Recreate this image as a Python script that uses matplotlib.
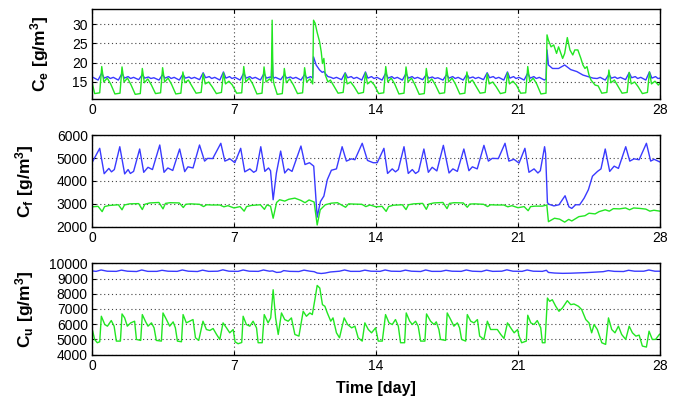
import matplotlib

matplotlib.use("Agg")

import matplotlib.pyplot as plt

plt.rcParams["font.family"] = ["Liberation Sans", "DejaVu Sans"]
plt.rcParams["mathtext.fontset"] = "custom"
plt.rcParams["mathtext.rm"] = "Liberation Sans"
plt.rcParams["mathtext.bf"] = "Liberation Sans:bold"

BLUE = "#3a3aff"
GREEN = "#22e622"

# ---- effluent concentration Ce [g/m3] ----
ce_blue_t = [
    0.0,
    0.05, 0.3, 0.48, 0.6, 0.78, 0.9,
    1.05, 1.3, 1.48, 1.6, 1.78, 1.9,
    2.05, 2.3, 2.48, 2.6, 2.78, 2.9,
    3.05, 3.3, 3.48, 3.6, 3.78, 3.9,
    4.05, 4.3, 4.48, 4.6, 4.78, 4.9,
    5.05, 5.3, 5.48, 5.6, 5.78, 5.9,
    6.05, 6.3, 6.48, 6.6, 6.78, 6.9,
    7.05, 7.3, 7.48, 7.6, 7.78, 7.9,
    8.05, 8.3, 8.48, 8.6, 8.78, 8.84, 8.88, 8.92, 8.96,
    9.05, 9.3, 9.48, 9.6, 9.78, 9.9,
    10.05, 10.3, 10.48, 10.6, 10.78, 10.88, 10.92, 11.05, 11.22, 11.35, 11.43, 11.5, 11.63, 11.78, 11.9,
    12.05, 12.3, 12.48, 12.6, 12.78, 12.9,
    13.05, 13.3, 13.48, 13.6, 13.78, 13.9,
    14.05, 14.3, 14.48, 14.6, 14.78, 14.9,
    15.05, 15.3, 15.48, 15.6, 15.78, 15.9,
    16.05, 16.3, 16.48, 16.6, 16.78, 16.9,
    17.05, 17.3, 17.48, 17.6, 17.78, 17.9,
    18.05, 18.3, 18.48, 18.6, 18.78, 18.9,
    19.05, 19.3, 19.48, 19.6, 19.78, 19.9,
    20.05, 20.3, 20.48, 20.6, 20.78, 20.9,
    21.05, 21.3, 21.48, 21.6, 21.78, 21.9,
    22.05, 22.3, 22.38, 22.43, 22.5, 22.7, 23.0, 23.3, 23.6, 23.9, 24.2, 24.45, 24.7, 24.9,
    25.05, 25.3, 25.48, 25.6, 25.78, 25.9,
    26.05, 26.3, 26.48, 26.6, 26.78, 26.9,
    27.05, 27.3, 27.48, 27.6, 27.78, 27.9,
    28.0,
]
ce_blue = [
    16.4,
    16.2, 15.5, 17.3, 16.0, 16.4, 15.9,
    16.2, 15.5, 17.2, 16.0, 16.4, 15.9,
    16.2, 15.6, 16.9, 16.0, 16.3, 15.9,
    16.1, 15.5, 16.9, 16.0, 16.4, 15.9,
    16.2, 15.5, 17.0, 16.0, 16.3, 15.9,
    16.2, 15.6, 17.4, 16.1, 16.4, 15.9,
    16.2, 15.5, 17.6, 16.0, 16.4, 15.9,
    16.2, 15.5, 17.3, 16.0, 16.4, 15.9,
    16.2, 15.5, 17.2, 16.0, 16.3, 16.1, 22.0, 16.6, 16.0,
    16.2, 15.6, 16.9, 16.0, 16.3, 15.9,
    16.2, 15.5, 16.9, 16.0, 16.4, 16.0, 21.5, 19.4, 18.1, 17.5, 17.7, 17.2, 16.4, 16.2, 15.9,
    16.2, 15.6, 17.4, 16.1, 16.4, 15.9,
    16.2, 15.5, 17.6, 16.0, 16.4, 15.9,
    16.2, 15.5, 17.3, 16.0, 16.4, 15.9,
    16.2, 15.5, 17.2, 16.0, 16.4, 15.9,
    16.2, 15.6, 16.9, 16.0, 16.3, 15.9,
    16.1, 15.5, 16.9, 16.0, 16.4, 15.9,
    16.2, 15.5, 17.0, 16.0, 16.3, 15.9,
    16.2, 15.6, 17.4, 16.1, 16.4, 15.9,
    16.2, 15.5, 17.6, 16.0, 16.4, 15.9,
    16.2, 15.5, 17.3, 16.0, 16.4, 15.9,
    16.2, 15.5, 15.8, 23.3, 19.4, 18.5, 18.5, 19.4, 18.2, 17.7, 16.8, 16.4, 16.0, 15.9,
    16.2, 15.5, 17.0, 16.0, 16.3, 15.9,
    16.2, 15.6, 17.4, 16.1, 16.4, 15.9,
    16.2, 15.5, 17.6, 16.0, 16.4, 15.9,
    16.0,
]

ce_green_t = [
    0.0,
    0.13, 0.38, 0.48, 0.58, 0.75, 0.92,
    1.13, 1.38, 1.48, 1.58, 1.75, 1.92,
    2.13, 2.38, 2.48, 2.58, 2.75, 2.92,
    3.13, 3.38, 3.48, 3.58, 3.75, 3.92,
    4.13, 4.38, 4.48, 4.58, 4.75, 4.92,
    5.13, 5.38, 5.48, 5.58, 5.75, 5.92,
    6.13, 6.38, 6.48, 6.58, 6.75, 6.92,
    7.13, 7.38, 7.48, 7.58, 7.75, 7.92,
    8.13, 8.38, 8.48, 8.58, 8.75, 8.84, 8.88, 8.92, 8.98,
    9.13, 9.38, 9.48, 9.58, 9.75, 9.92,
    10.13, 10.38, 10.48, 10.58, 10.75, 10.88, 10.92, 11.0, 11.1, 11.22, 11.3, 11.36, 11.43, 11.5, 11.63, 11.75, 11.92,
    12.13, 12.38, 12.48, 12.58, 12.75, 12.92,
    13.13, 13.38, 13.48, 13.58, 13.75, 13.92,
    14.13, 14.38, 14.48, 14.58, 14.75, 14.92,
    15.13, 15.38, 15.48, 15.58, 15.75, 15.92,
    16.13, 16.38, 16.48, 16.58, 16.75, 16.92,
    17.13, 17.38, 17.48, 17.58, 17.75, 17.92,
    18.13, 18.38, 18.48, 18.58, 18.75, 18.92,
    19.13, 19.38, 19.48, 19.58, 19.75, 19.92,
    20.13, 20.38, 20.48, 20.58, 20.75, 20.92,
    21.13, 21.38, 21.48, 21.58, 21.75, 21.92,
    22.13, 22.38, 22.43, 22.5, 22.63, 22.76, 22.9, 23.0, 23.2, 23.3, 23.43, 23.56, 23.7, 23.8, 23.95,
    24.1, 24.2, 24.3, 24.4, 24.5, 24.6, 24.8, 24.95,
    25.13, 25.38, 25.48, 25.58, 25.75, 25.92,
    26.13, 26.38, 26.48, 26.58, 26.75, 26.92,
    27.13, 27.38, 27.48, 27.58, 27.75, 27.92,
    28.0,
]
ce_green = [
    15.0,
    12.0, 12.2, 19.0, 15.0, 16.0, 14.5,
    11.9, 12.1, 18.9, 15.0, 16.0, 14.3,
    11.8, 12.0, 18.5, 14.8, 15.8, 14.3,
    12.0, 12.2, 18.7, 15.0, 16.0, 14.4,
    11.9, 12.1, 17.6, 14.8, 15.5, 14.0,
    12.1, 12.3, 17.2, 14.5, 15.0, 13.8,
    12.0, 12.3, 17.4, 14.5, 15.2, 14.2,
    12.1, 12.2, 19.0, 15.0, 16.0, 14.5,
    11.9, 12.1, 18.9, 15.0, 15.8, 15.2, 31.0, 16.0, 14.3,
    11.8, 12.0, 18.5, 14.8, 15.8, 14.3,
    12.0, 12.2, 18.7, 15.0, 15.8, 14.5, 31.0, 30.2, 27.8, 25.4, 22.8, 19.8, 21.1, 16.8, 15.0, 15.5, 14.0,
    12.1, 12.3, 17.2, 14.5, 15.0, 13.8,
    12.0, 12.3, 17.4, 14.5, 15.2, 14.2,
    12.0, 12.2, 19.0, 15.0, 16.0, 14.5,
    11.9, 12.1, 18.9, 15.0, 16.0, 14.3,
    11.8, 12.0, 18.5, 14.8, 15.8, 14.3,
    12.0, 12.2, 18.7, 15.0, 16.0, 14.4,
    11.9, 12.1, 17.6, 14.8, 15.5, 14.0,
    12.1, 12.3, 17.2, 14.5, 15.0, 13.8,
    12.0, 12.3, 17.4, 14.5, 15.2, 14.2,
    12.1, 12.2, 19.0, 15.0, 16.0, 14.5,
    11.9, 12.1, 27.2, 25.8, 24.1, 24.6, 22.4, 24.1, 21.1, 22.4, 26.5, 23.3, 22.0, 23.3, 23.3,
    21.1, 19.4, 18.5, 19.0, 16.8, 15.5, 14.2, 14.0,
    12.1, 12.3, 18.1, 14.8, 15.5, 14.0,
    12.1, 12.3, 17.5, 14.5, 15.0, 13.8,
    12.0, 12.3, 17.6, 14.5, 15.2, 14.2,
    14.7,
]

# ---- feed concentration Cf [g/m3] ----
cf_blue_t = [
    0.0, 0.38, 0.6, 0.83, 0.96, 1.1, 1.37, 1.61, 1.78, 1.89, 2.05, 2.35, 2.55, 2.76, 2.98,
    3.34, 3.55, 3.74, 3.98, 4.32, 4.57, 4.73, 4.98, 5.3, 5.55, 5.7, 5.95, 6.35, 6.55, 6.8,
    7.04, 7.33, 7.53, 7.78, 7.97, 8.1, 8.32, 8.52, 8.7, 8.8, 8.93, 9.09, 9.3, 9.5, 9.67, 9.86,
    10.3, 10.5, 10.72, 10.93, 11.1, 11.26, 11.43, 11.6, 11.8, 12.05, 12.33, 12.54, 12.79, 12.96,
    13.32, 13.58, 13.86, 14.06, 14.39, 14.57, 14.8, 14.96, 15.1, 15.38, 15.59, 15.79, 15.95,
    16.1, 16.36, 16.58, 16.77, 17.0, 17.32, 17.6, 17.79, 18.01, 18.33, 18.58, 18.75, 18.99,
    19.32, 19.54, 19.73, 20.03, 20.36, 20.55, 20.8, 21.05, 21.34, 21.54, 21.79, 21.98, 22.1,
    22.31, 22.36, 22.45, 22.53, 22.77, 23.02, 23.32, 23.51, 23.65, 23.84, 24.04, 24.26, 24.47,
    24.67, 24.92, 25.09, 25.3, 25.52, 25.74, 25.95, 26.31, 26.51, 26.72, 26.97, 27.33, 27.54,
    27.71, 27.99, 28.0,
]
cf_blue = [
    4800, 5430, 4320, 4550, 4400, 4500, 5500, 4310, 4500, 4330, 4420, 5400, 4380, 4600, 4500,
    5575, 4380, 4570, 4460, 5400, 4410, 4620, 4570, 5575, 4870, 4990, 4980, 5650, 4870, 4970,
    4800, 5430, 4400, 4530, 4380, 4450, 5500, 4420, 4570, 4450, 3180, 4350, 5310, 4350, 4530, 4420,
    5530, 4720, 4800, 4650, 2415, 3100, 3340, 4060, 4470, 4530, 5500, 4870, 4970, 4930,
    5650, 4900, 4800, 4800, 5430, 4330, 4530, 4400, 4500, 5500, 4330, 4500, 4330,
    4420, 5400, 4380, 4600, 4440, 5560, 4350, 4530, 4420, 5400, 4450, 4620, 4530,
    5560, 4870, 4990, 4980, 5650, 4870, 4950, 4780, 5430, 4380, 4530, 4350, 4450,
    5500, 5200, 3050, 2980, 2910, 2960, 3355, 2870, 2800, 2960, 2960, 3250, 3620,
    4210, 4420, 4530, 5400, 4420, 4650, 4550, 5500, 4870, 4970, 4930, 5650, 4870,
    4950, 4830, 4830,
]

cf_green_t = [
    0.0, 0.3, 0.5, 0.62, 0.85, 1.3, 1.48, 1.6, 1.85, 2.3, 2.48, 2.6, 2.85,
    3.3, 3.5, 3.62, 3.85, 4.3, 4.5, 4.62, 4.85, 5.3, 5.5, 5.65, 5.9, 6.3, 6.5, 6.7,
    7.0, 7.3, 7.5, 7.62, 7.85, 8.3, 8.5, 8.62, 8.8, 8.93, 9.1, 9.25, 9.5, 9.7,
    10.0, 10.3, 10.5, 10.7, 10.95, 11.1, 11.25, 11.5, 11.8, 12.1, 12.5, 12.65, 12.9,
    13.3, 13.5, 13.7, 14.0, 14.3, 14.5, 14.62, 14.85, 15.3, 15.48, 15.6, 15.85,
    16.3, 16.48, 16.6, 16.85, 17.3, 17.5, 17.62, 17.85, 18.3, 18.5, 18.62, 18.85,
    19.3, 19.5, 19.65, 19.9, 20.3, 20.5, 20.7, 21.0, 21.3, 21.5, 21.62, 21.85,
    22.2, 22.42, 22.5, 22.8, 23.05, 23.3, 23.5, 23.65, 24.0, 24.3, 24.5, 24.8,
    25.0, 25.3, 25.5, 25.7, 26.0, 26.3, 26.5, 26.7, 27.0, 27.3, 27.5, 27.7, 28.0,
]
cf_green = [
    2870, 2890, 2660, 2880, 2930, 2960, 2740, 2950, 3000, 3010, 2750, 2980, 3040,
    3060, 2780, 3020, 3050, 3040, 2840, 2980, 3000, 2980, 2880, 2960, 2950, 2950, 2870, 2920,
    2820, 2880, 2680, 2880, 2930, 2960, 2760, 2950, 2900, 2370, 3060, 3180, 3120, 3200,
    3250, 3150, 3050, 3170, 3080, 2075, 2740, 2960, 3030, 3050, 2850, 3000, 2990,
    2980, 2880, 2950, 2870, 2890, 2670, 2880, 2940, 2960, 2750, 2960, 3000,
    3020, 2760, 2990, 3040, 3060, 2790, 3020, 3050, 3040, 2850, 2990, 3000,
    2980, 2880, 2960, 2950, 2950, 2870, 2920, 2830, 2880, 2700, 2880, 2900,
    2900, 2950, 2220, 2370, 2330, 2200, 2320, 2250, 2440, 2480, 2590, 2560,
    2660, 2740, 2680, 2790, 2780, 2820, 2740, 2820, 2800, 2770, 2680, 2720, 2680,
]

# ---- underflow concentration Cu [g/m3] ----
cu_blue_t = [
    0.0, 0.2, 0.45, 0.75, 1.2, 1.45, 1.75, 2.2, 2.45, 2.75, 3.2, 3.45, 3.75,
    4.2, 4.45, 4.75, 5.2, 5.45, 5.75, 6.2, 6.45, 6.75, 7.2, 7.45, 7.75,
    8.2, 8.45, 8.75, 8.9, 9.1, 9.3, 9.45, 9.75, 10.2, 10.45, 10.75, 10.95, 11.1, 11.3,
    11.5, 11.75, 12.2, 12.45, 12.75, 13.2, 13.45, 13.75, 14.2, 14.45, 14.75,
    15.2, 15.45, 15.75, 16.2, 16.45, 16.75, 17.2, 17.45, 17.75, 18.2, 18.45, 18.75,
    19.2, 19.45, 19.75, 20.2, 20.45, 20.75, 21.2, 21.45, 21.75, 22.2, 22.4, 22.5,
    22.8, 23.2, 23.6, 24.0, 24.4, 24.8, 25.2, 25.45, 25.75, 26.2, 26.45, 26.75,
    27.2, 27.45, 27.75, 28.0,
]
cu_blue = [
    9500, 9470, 9560, 9480, 9470, 9550, 9480, 9460, 9560, 9470, 9470, 9540, 9480,
    9470, 9560, 9480, 9460, 9550, 9470, 9480, 9570, 9480, 9470, 9560, 9480,
    9470, 9560, 9480, 9500, 9400, 9420, 9520, 9470, 9460, 9550, 9480, 9450, 9360, 9330,
    9360, 9430, 9480, 9560, 9470, 9470, 9550, 9480, 9470, 9560, 9480,
    9470, 9550, 9480, 9460, 9560, 9470, 9470, 9540, 9480, 9470, 9560, 9480,
    9460, 9550, 9470, 9480, 9570, 9480, 9470, 9560, 9480, 9470, 9540, 9400,
    9360, 9340, 9350, 9370, 9390, 9420, 9450, 9520, 9470, 9460, 9540, 9480,
    9480, 9560, 9480, 9480,
]

cu_green_t = [
    0.0, 0.13, 0.26, 0.38, 0.46, 0.63, 0.76, 0.95, 1.09, 1.2, 1.4, 1.48, 1.61, 1.74, 1.91,
    2.1, 2.19, 2.4, 2.48, 2.63, 2.76, 2.93, 3.06, 3.17, 3.42, 3.5, 3.67, 3.83, 4.0, 4.11,
    4.21, 4.41, 4.49, 4.65, 4.82, 4.98, 5.1, 5.26, 5.47, 5.64, 5.81, 5.97, 6.14, 6.3, 6.46,
    6.63, 6.79, 6.96, 7.05, 7.2, 7.38, 7.45, 7.61, 7.78, 7.94, 8.11, 8.19, 8.39, 8.49, 8.68,
    8.81, 8.93, 9.05, 9.18, 9.34, 9.5, 9.67, 9.83, 10.0, 10.2, 10.41, 10.57, 10.74, 10.86,
    11.0, 11.1, 11.23, 11.36, 11.48, 11.6, 11.77, 11.88, 12.05, 12.2, 12.43, 12.6, 12.8,
    12.96, 13.12, 13.32, 13.45, 13.62, 13.78, 13.98, 14.11, 14.31, 14.47, 14.64, 14.8,
    14.96, 15.1, 15.21, 15.41, 15.49, 15.66, 15.79, 15.95, 16.08, 16.2, 16.41, 16.49,
    16.69, 16.86, 16.97, 17.1, 17.18, 17.43, 17.51, 17.68, 17.84, 18.01, 18.12, 18.22,
    18.42, 18.5, 18.67, 18.83, 19.0, 19.11, 19.32, 19.49, 19.65, 19.82, 19.98, 20.15,
    20.31, 20.48, 20.64, 20.81, 20.98, 21.05, 21.18, 21.41, 21.48, 21.63, 21.79, 21.95,
    22.12, 22.2, 22.33, 22.45, 22.56, 22.69, 22.86, 23.02, 23.19, 23.43, 23.6, 23.76,
    23.98, 24.14, 24.34, 24.5, 24.63, 24.75, 24.91, 25.13, 25.32, 25.46, 25.62, 25.78,
    25.95, 26.11, 26.31, 26.48, 26.64, 26.81, 26.97, 27.13, 27.33, 27.46, 27.62, 27.78,
    27.98, 28.0,
]
cu_green = [
    5740, 5000, 4785, 4850, 6524, 5981, 5872, 6241, 5872, 4893, 4893, 6676, 6416, 5872, 6089,
    6198, 5002, 4937, 6633, 6198, 5872, 6089, 5763, 4937, 4893, 6741, 6307, 5872, 6155, 5763,
    4893, 4850, 6633, 6089, 6198, 6307, 5111, 4937, 6198, 5654, 5589, 5720, 5328, 5002, 6089,
    5763, 5437, 5654, 4850, 4720, 4800, 6524, 5981, 5872, 6198, 5763, 4785, 4785, 6633, 6089,
    6416, 8264, 6416, 5328, 6741, 6307, 6198, 6416, 5328, 5220, 6850, 6524, 6741, 6633,
    7720, 8547, 8372, 7285, 7177, 6741, 6198, 6416, 5437, 5111, 6416, 5981, 5763,
    5872, 5111, 4893, 6089, 5654, 5437, 5763, 4893, 4893, 6633, 6089, 5981,
    6307, 5872, 4785, 4785, 6741, 6198, 5981, 6198, 5872, 4893, 4893, 6676,
    6198, 5981, 6155, 5654, 5002, 4937, 6741, 6307, 5872, 6089, 5763, 5002,
    4893, 6633, 6198, 6089, 6307, 5220, 5002, 6198, 5654, 5654, 5654, 5328,
    5067, 6089, 5763, 5437, 5654, 5220, 4785, 4893, 6590, 6089, 5981, 6241,
    5763, 4785, 4785, 7720, 7503, 7611, 7177, 6850, 7068, 7546, 7285, 7329,
    7177, 6959, 6307, 6089, 5437, 5981, 5654, 4785, 4676, 6416, 5654, 5437,
    5872, 5328, 5002, 5872, 5437, 5220, 5285, 4567, 4502, 5545, 5002, 5002,
    5350, 5350,
]

day_ticks = [0, 7, 14, 21, 28]
panels = [
    (ce_blue_t, ce_blue, ce_green_t, ce_green, r"$\mathbf{C_e\ [g/m^3]}$",
     (10.6, 33.9), [15, 20, 25, 30], [0.1353, 0.7568, 0.8353, 0.2211], -0.072),
    (cf_blue_t, cf_blue, cf_green_t, cf_green, r"$\mathbf{C_f\ [g/m^3]}$",
     (2000, 6000), [2000, 3000, 4000, 5000, 6000], [0.1353, 0.4430, 0.8353, 0.2246], -0.098),
    (cu_blue_t, cu_blue, cu_green_t, cu_green, r"$\mathbf{C_u\ [g/m^3]}$",
     (4000, 10000), [4000, 5000, 6000, 7000, 8000, 9000, 10000], [0.1353, 0.1285, 0.8353, 0.2246], -0.098),
]

fig = plt.figure(figsize=(6.8, 4.07), dpi=100)
axes = []
for bt, bv, gt, gv, label, ylim, yticks, pos, lab_x in panels:
    ax = fig.add_axes(pos)
    ax.plot(bt, bv, color=BLUE, linewidth=1.0)
    ax.plot(gt, gv, color=GREEN, linewidth=1.0)
    ax.set_xlim(0, 28)
    ax.set_ylim(*ylim)
    ax.set_xticks(day_ticks)
    ax.set_yticks(yticks)
    ax.grid(True, color="#444444", linestyle=(0, (1, 2.5)), linewidth=0.8)
    ax.tick_params(direction="in", top=True, right=True, labelsize=10, length=3, width=0.8, pad=3)
    for spine in ax.spines.values():
        spine.set_linewidth(1.0)
    ax.set_ylabel(label, fontsize=12.5)
    ax.yaxis.set_label_coords(lab_x, 0.5)
    axes.append(ax)

axes[-1].set_xlabel("Time [day]", fontsize=11.5, fontweight="bold", labelpad=6)

fig.savefig("out.png", dpi=100)
